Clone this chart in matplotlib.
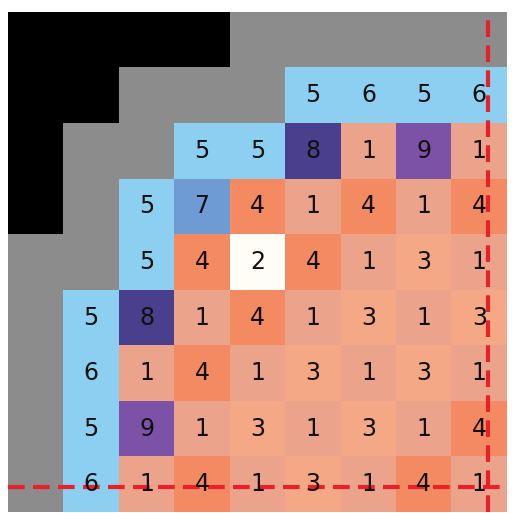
import matplotlib
matplotlib.use("Agg")
import matplotlib.pyplot as plt
import numpy as np
from matplotlib.colors import ListedColormap

# -2 = black, -1 = gray, values 1..9
grid = [
    [-2, -2, -2, -2, -1, -1, -1, -1, -1],
    [-2, -2, -1, -1, -1, 5, 6, 5, 6],
    [-2, -1, -1, 5, 5, 8, 1, 9, 1],
    [-2, -1, 5, 7, 4, 1, 4, 1, 4],
    [-1, -1, 5, 4, 2, 4, 1, 3, 1],
    [-1, 5, 8, 1, 4, 1, 3, 1, 3],
    [-1, 6, 1, 4, 1, 3, 1, 3, 1],
    [-1, 5, 9, 1, 3, 1, 3, 1, 4],
    [-1, 6, 1, 4, 1, 3, 1, 4, 1],
]
colors = {-2: "#000000", -1: "#8c8c8c", 1: "#eba38b", 2: "#fffdf5", 3: "#f5a886",
          4: "#f48a62", 5: "#8ccff0", 6: "#8ccff0", 7: "#6e9bd3", 8: "#4a3f8d", 9: "#7c52a6"}
keys = sorted(colors)
cmap = ListedColormap([colors[k] for k in keys])
arr = np.array(grid)
idx = np.vectorize(lambda v: keys.index(v))(arr)

fig = plt.figure(figsize=(5.26, 5.13), dpi=100)
ax = fig.add_axes([8/526, 1-512/513, 499/526, 500/513])
ax.imshow(idx, cmap=cmap, vmin=-0.5, vmax=len(keys)-0.5, aspect="auto", interpolation="nearest")
for r in range(9):
    for c in range(9):
        v = arr[r, c]
        if v > 0:
            ax.text(c, r, str(v), ha="center", va="center", fontsize=17, color="#111111")
ax.axvline(8.15, color="#e8202a", lw=3, ls=(0, (4, 2)))
ax.axhline(8.05, color="#e8202a", lw=3, ls=(0, (4, 2)))
ax.set_xlim(-0.5, 8.5)
ax.set_ylim(8.5, -0.5)
ax.axis("off")
fig.savefig("out.png", dpi=100)
